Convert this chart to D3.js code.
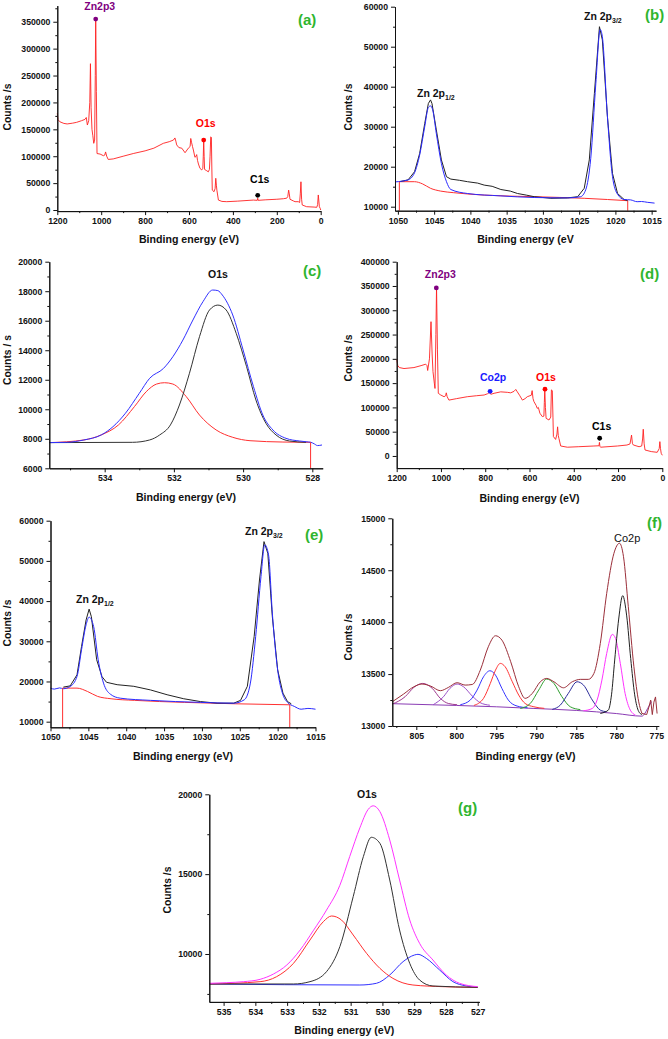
<!DOCTYPE html>
<html><head><meta charset="utf-8">
<script src="https://cdn.jsdelivr.net/npm/d3@7"></script>
<style>
body{margin:0;background:#fff}
svg{display:block}
text{font-family:"Liberation Sans",Arial,sans-serif}
</style>
</head><body>
<svg id="c" width="668" height="1039"></svg>
<script>
// ---------- DATA (binding energy eV, counts/s) ----------
const aSurvey = [[1200,180000],[1197,168000],[1188,164000],[1170,161000],[1155,160000],[1130,161500],[1112,163000],[1090,166000],[1074,168500],[1068,172000],[1063,158000],[1057,166000],[1052,200000],[1049,272000],[1046,190000],[1042,150000],[1038,138000],[1034,124000],[1030,130000],[1027,250000],[1025,356000],[1022,220000],[1019,105000],[1005,104000],[990,101000],[984,102000],[980,108000],[975,100000],[968,94000],[945,95000],[900,100000],[854,105000],[800,110000],[760,115000],[717,124000],[690,127000],[671,130000],[664,134000],[660,128000],[656,121000],[646,116000],[633,115000],[618,106500],[603,115000],[595,118000],[592,133000],[588,125000],[584,118000],[580,111500],[573,98000],[568,100000],[565,103000],[561,92000],[557,85500],[550,77500],[542,74500],[537,77500],[535,100000],[533,130000],[531,100000],[529,75500],[519,73000],[512,71000],[507,75500],[504,100000],[501,136000],[498,135000],[496,80000],[494,37000],[486,34000],[481,40000],[478,59000],[475,45000],[473,37000],[466,18500],[450,16000],[428,15500],[380,16500],[307,18500],[289,18000],[287,22000],[285,18000],[250,19000],[200,20000],[170,21000],[155,22000],[150,25000],[146,37000],[143,30000],[140,20000],[125,17000],[117,15500],[102,15500],[96,14000],[93,30000],[90,52500],[87,20000],[84,9300],[64,6200],[30,5500],[18,5000],[14,10000],[11,28000],[8,15000],[6,6000],[2,3000],[0,0]];
const aMarks = [["Zn2p3",1025,355000,"#800080"],["O1s",533,130000,"#ff0000"],["C1s",287,27300,"#000000"]];

const bBlack = [[1049.8,16250],[1048.6,16700],[1047.7,18750],[1047.0,23300],[1046.3,30800],[1045.8,35800],[1045.5,36700],[1045.3,35800],[1044.7,29200],[1044.0,21700],[1043.3,17500],[1042.7,16900],[1041.5,16600],[1040.4,16250],[1039.0,15900],[1038.1,15400],[1037.0,15100],[1035.8,14300],[1034.5,13900],[1033.5,13300],[1032.3,12900],[1031.2,12500],[1030.0,12300],[1028.9,12100],[1027.5,12150],[1026.6,12200],[1025.2,12500],[1024.3,14600],[1023.6,21700],[1022.9,38300],[1022.2,55000],[1021.8,51700],[1021.1,32500],[1020.4,18300],[1019.7,13300],[1018.8,11800],[1018.3,11500]];
const bBlue = [[1050.4,16200],[1048.6,16700],[1047.7,18500],[1047.0,22900],[1046.3,30000],[1045.8,34800],[1045.5,35200],[1045.2,34200],[1044.7,28300],[1044.0,20800],[1043.3,16250],[1042.7,14300],[1040.4,13300],[1035.8,12700],[1031.2,12300],[1026.6,12200],[1024.8,12500],[1024.1,14200],[1023.4,22100],[1022.7,40800],[1022.1,54300],[1021.8,52500],[1021.1,32500],[1020.4,17500],[1019.7,13100],[1018.8,11800],[1017.9,11700],[1017.0,11250],[1016.4,11300],[1015.6,11100],[1014.6,10900]];
const bRed = [[1049.8,16250],[1047.7,16250],[1046.6,15700],[1045.5,14600],[1044.1,13900],[1042.3,13500],[1038.1,12900],[1031.2,12500],[1024.3,12100],[1021.1,11800],[1018.3,11500]];
const bEdges = [[1049.8,16250],[1018.3,11500]];

const cBlue = [[535.6,7740],[535.1,7760],[534.6,7920],[534.1,8260],[533.76,8820],[533.4,9730],[533.0,11080],[532.7,12100],[532.3,12770],[532.03,13560],[531.74,14690],[531.45,16050],[531.16,17290],[530.88,18080],[530.73,18040],[530.6,17740],[530.3,16390],[530.0,14020],[529.7,11530],[529.43,9610],[529.14,8600],[528.76,8030],[528.37,7850],[528.18,7800],[528.04,7760],[527.94,7650],[527.85,7540],[527.72,7580]];
const cBlack = [[535.6,7740],[533.2,7760],[532.7,7920],[532.41,8260],[532.1,8940],[531.84,10290],[531.55,12440],[531.26,14920],[530.97,16730],[530.73,17060],[530.49,16730],[530.2,15150],[529.9,12890],[529.63,10630],[529.34,9050],[529.05,8260],[528.66,7850],[528.18,7760]];
const cRed = [[535.6,7740],[534.6,7920],[534.1,8260],[533.6,8940],[533.14,10180],[532.8,11190],[532.5,11710],[532.27,11800],[532.03,11710],[531.64,10850],[531.26,9610],[530.78,8600],[530.3,8100],[529.8,7870],[528.85,7780],[528.05,7760]];
const cEdge = [[528.05,7760]];

const dSurvey = [[1200,199000],[1195,186000],[1188,182000],[1167,180000],[1122,182000],[1090,186000],[1069,189000],[1063,186000],[1060,176000],[1052,200000],[1045,276500],[1040,210000],[1036,173600],[1030,150000],[1027,139000],[1023,250000],[1020,348500],[1016,220000],[1012,129000],[1001,125500],[986,122000],[979,124000],[976,130000],[972,122000],[964,115000],[930,118000],[881,122000],[840,124000],[805,125500],[790,128000],[780,131000],[775,127000],[760,129000],[730,132000],[700,131000],[685,130000],[670,133000],[662,137000],[655,132000],[645,125000],[632,115000],[620,118000],[610,122000],[592,125000],[588,134500],[584,118000],[580,112000],[570,104000],[565,98000],[560,100000],[553,88000],[542,81000],[535,82000],[533,110000],[531,137000],[528,100000],[525,77500],[512,74000],[504,80000],[501,136000],[497,134500],[494,80000],[492,40000],[482,34000],[476,45000],[473,60000],[470,42000],[467,36000],[459,20500],[429,18000],[380,19000],[309,20500],[286,21000],[284,28000],[282,20000],[279,18000],[203,20500],[160,22500],[146,24700],[142,35000],[139,43000],[135,26000],[131,22600],[105,19000],[93,20500],[89,35000],[86,55000],[82,25000],[78,12300],[50,9000],[23,7500],[14,15000],[11,29500],[8,15000],[5,5500],[0,1400]];
const dMarks = [["Zn2p3",1021,346000,"#800080"],["Co2p",778,133000,"#1a1aff"],["O1s",530,137500,"#ff0000"],["C1s",283,36500,"#000000"]];

const eBlack = [[1048.3,18600],[1047.4,18900],[1046.5,21650],[1045.9,28700],[1045.3,35300],[1044.9,38000],[1044.6,36100],[1043.9,25400],[1043.2,21200],[1042.6,19800],[1041.2,19200],[1039.0,18800],[1036.8,17900],[1034.6,16700],[1032.4,15700],[1030.2,15000],[1028.0,14600],[1025.8,14600],[1024.9,15300],[1024.0,18800],[1023.1,31200],[1022.4,45250],[1021.8,54800],[1021.3,51900],[1020.7,36100],[1020.0,22900],[1019.3,17100],[1018.7,15000],[1018.2,14450]];
const eBlue = [[1050.0,18350],[1049.5,18100],[1048.8,18400],[1048.3,18200],[1047.4,18750],[1046.5,21250],[1045.9,27900],[1045.3,34100],[1044.9,36000],[1044.3,33650],[1043.7,25400],[1043.0,19600],[1042.1,16850],[1040.8,15850],[1036.8,15300],[1030.2,14800],[1025.8,14600],[1024.4,15450],[1023.6,19600],[1022.9,31200],[1022.2,46100],[1021.7,54000],[1021.2,51500],[1020.7,37000],[1020.0,22900],[1019.3,16700],[1018.7,14800],[1017.8,13800],[1016.9,13100],[1016.0,13300],[1015.0,13100]];
const eRed = [[1048.4,18350],[1046.5,18350],[1045.1,17500],[1043.8,16300],[1042.0,15700],[1038.9,15300],[1032.3,14800],[1025.6,14450],[1018.4,14200]];
const eEdges = [[1048.4,18350],[1018.4,14200]];

const fEnvelope = [[808.0,13233],[806.6,13307],[805.3,13378],[804.3,13404],[803.2,13384],[802.0,13340],[801.0,13371],[799.9,13417],[798.9,13394],[798.0,13400],[797.0,13538],[796.0,13763],[795.1,13869],[794.3,13827],[793.2,13619],[792.2,13378],[791.4,13266],[790.5,13314],[789.5,13426],[788.7,13458],[787.8,13426],[786.6,13368],[785.5,13426],[784.5,13449],[783.5,13449],[782.8,13506],[782.0,13795],[781.2,14277],[780.3,14662],[779.6,14760],[779.1,14630],[778.5,14149],[777.8,13571],[777.2,13233],[776.8,13121]];
const fBackground = [[808.0,13215],[800.0,13198],[795.0,13185],[790.3,13169],[785.0,13150],[780.0,13120],[776.8,13095],[776.0,13180],[775.6,13235]];
const fRawTail = [[776.8,13121],[776.2,13110],[775.9,13190],[775.7,13250],[775.5,13110],[775.3,13230],[775.1,13280],[774.9,13120]];
const fComp1 = [[808.0,13211],[806.4,13282],[805.3,13372],[804.2,13410],[803.0,13362],[802.0,13266],[801.0,13217],[799.9,13205]];
const fComp2 = [[802.9,13204],[801.6,13282],[800.8,13362],[799.9,13404],[799.1,13378],[798.0,13288],[797.0,13224],[795.8,13200]];
const fComp3 = [[799.5,13205],[798.25,13250],[797.4,13346],[796.6,13474],[795.8,13532],[795.1,13490],[794.3,13362],[793.5,13250],[792.4,13192],[791.1,13176]];
const fComp4 = [[797.8,13198],[796.6,13266],[795.75,13410],[795.1,13538],[794.5,13603],[793.9,13571],[793.0,13426],[792.2,13298],[791.4,13217],[790.3,13185],[789.0,13170]];
const fComp5 = [[792.0,13169],[790.75,13217],[789.7,13346],[788.7,13452],[787.8,13410],[786.8,13282],[785.75,13185],[784.5,13158]];
const fComp6 = [[788.0,13160],[787.0,13201],[786.0,13314],[784.9,13426],[784.1,13394],[783.0,13250],[782.0,13153],[781.2,13137]];
const fComp7 = [[784.1,13147],[783.0,13169],[782.4,13250],[781.8,13442],[781.2,13699],[780.5,13882],[780.1,13844],[779.5,13603],[778.9,13314],[778.25,13153],[777.6,13105]];
const fComp8 = [[782.0,13121],[781.0,13153],[780.6,13300],[780.2,13635],[779.7,14030],[779.2,14255],[778.7,14060],[778.2,13650],[777.7,13300],[777.2,13140],[776.8,13110]];

const gEnvelope = [[535.44,8163],[534.9,8204],[534.37,8267],[533.85,8413],[533.43,8747],[533.01,9311],[532.59,10250],[532.18,11450],[531.76,12750],[531.34,14300],[531.03,16100],[530.71,17900],[530.45,19050],[530.29,19280],[530.08,18916],[529.77,17141],[529.46,14635],[529.14,12130],[528.83,10668],[528.41,9624],[527.99,8685],[527.57,8163],[527.0,7954]];
const gBlack = [[535.44,8121],[532.8,8121],[532.28,8267],[531.76,8893],[531.34,10459],[530.92,13591],[530.6,16097],[530.35,17308],[530.08,16932],[529.77,14635],[529.46,11503],[529.14,9415],[528.83,8371],[528.41,7996],[527.0,7912]];
const gRed = [[535.44,8121],[533.85,8267],[533.33,8580],[532.8,9415],[532.28,10877],[531.86,12025],[531.6,12380],[531.29,12130],[530.92,11190],[530.5,10042],[530.08,9102],[529.67,8476],[529.04,8058],[528.1,7954],[527.0,7912]];
const gBlue = [[535.44,8121],[530.71,8058],[530.19,8163],[529.77,8685],[529.35,9520],[528.99,9937],[528.88,9979],[528.62,9729],[528.2,8998],[527.78,8267],[527.36,7996],[527.0,7912]];

// ---------- DRAWING ----------
const svg = d3.select('#c');
const fmt = d3.format('d');
function range(a,b,s){const r=[];for(let v=a;s>0?v<=b+1e-9:v>=b-1e-9;v+=s)r.push(+v.toFixed(4));return r;}

function panel(o){
  const x = d3.scaleLinear().domain(o.xd).range(o.xr);
  const y = d3.scaleLinear().domain(o.yd).range(o.yr);
  const g = svg.append('g');
  o.series.forEach(s=>{
    const ln = d3.line().x(d=>x(d[0])).y(d=>y(d[1])).curve(s.smooth?d3.curveMonotoneX:d3.curveLinear);
    g.append('path').datum(s.data).attr('d',ln).attr('fill','none')
      .attr('stroke',s.color).attr('stroke-width',s.w||1).attr('stroke-linejoin','round');
  });
  (o.edges||[]).forEach(e=>{
    e.data.forEach(d=>{
      g.append('line').attr('x1',x(d[0])).attr('x2',x(d[0])).attr('y1',y(d[1])).attr('y2',y(o.yd[0]))
        .attr('stroke',e.color).attr('stroke-width',1);
    });
  });
  const xb=o.yr[0], yl=o.xr[0];
  const style = sel=>{sel.attr('font-size',8.7).attr('font-weight','bold').attr('font-family','"Liberation Sans",Arial,sans-serif');
    sel.selectAll('path,line').attr('stroke','#111');sel.selectAll('text').attr('fill','#111');};
  g.append('g').attr('transform',`translate(0,${xb})`)
    .call(d3.axisBottom(x).tickValues(o.xm).tickSize(2).tickSizeOuter(0).tickFormat('')).call(style);
  g.append('g').attr('transform',`translate(0,${xb})`)
    .call(d3.axisBottom(x).tickValues(o.xt).tickSize(4).tickSizeOuter(0).tickFormat(fmt)).call(style);
  g.append('g').attr('transform',`translate(${yl},0)`)
    .call(d3.axisLeft(y).tickValues(o.ym).tickSize(2).tickSizeOuter(0).tickFormat('')).call(style);
  g.append('g').attr('transform',`translate(${yl},0)`)
    .call(d3.axisLeft(y).tickValues(o.yt).tickSize(4).tickSizeOuter(0).tickFormat(fmt)).call(style);
  // axis titles
  g.append('text').attr('x',(o.xr[0]+o.xr[1])/2).attr('y',o.xtY).attr('text-anchor','middle')
    .attr('font-size',10.6).attr('font-weight','bold').attr('fill','#111').text(o.xTitle);
  g.append('text').attr('transform',`translate(${o.ytX},${o.ytY}) rotate(-90)`).attr('text-anchor','middle')
    .attr('font-size',10.3).attr('font-weight','bold').attr('fill','#111').text(o.yTitle);
  // panel letter
  g.append('text').attr('x',o.letter[1]).attr('y',o.letter[2]).attr('font-family','"Liberation Serif","Times New Roman",serif')
    .attr('font-size',15).attr('font-weight','bold').attr('fill','#2fb52f').text(o.letter[0]);
  // markers
  (o.marks||[]).forEach(m=>{
    const px=x(m[1]), py=y(m[2]);
    g.append('circle').attr('cx',px).attr('cy',py).attr('r',2.4).attr('fill',m[3]);
    g.append('text').attr('x',px+m[4]).attr('y',py+m[5]).attr('text-anchor','middle')
      .attr('font-size',10.5).attr('font-weight','bold').attr('fill',m[3]).text(m[0]);
  });
  (o.labels||[]).forEach(l=>{
    const t=g.append('text').attr('x',l.x).attr('y',l.y).attr('font-size',l.size||10.5)
      .attr('font-weight',l.normal?'normal':'bold').attr('fill','#111').attr('text-anchor',l.anchor||'start');
    t.append('tspan').text(l.t);
    if(l.sub){t.append('tspan').attr('font-size',7).attr('dy',2.5).text(l.sub);}
  });
  return {x,y,g};
}

// (a)
panel({xd:[1200,0],xr:[57.3,320.7],yd:[-2000,380000],yr:[211.1,5.6],
  xt:range(0,1200,200),xm:range(100,1100,200),yt:range(0,350000,50000),ym:range(25000,375000,50000),
  xTitle:'Binding energy (eV)',xtY:243,yTitle:'Counts /s',ytX:11,ytY:107,letter:['(a)',298,25],
  series:[{data:aSurvey,color:'#ff2020',w:0.9}],
  marks:aMarks.map((m,i)=>[...m,[[4,-9],[2,-13],[2,-12]][i][0],[[4,-9],[2,-13],[2,-12]][i][1]])});

// (b)
panel({xd:[1050.4,1014.4],xr:[395,656],yd:[9000,60000],yr:[210.7,6.7],
  xt:range(1015,1050,5),xm:range(1017.5,1047.5,5),yt:range(10000,60000,10000),ym:range(15000,55000,10000),
  xTitle:'Binding energy (eV',xtY:243,yTitle:'Counts /s',ytX:352,ytY:107,letter:['(b)',645,20],
  series:[{data:bRed,color:'#ff3030',smooth:true},{data:bBlack,color:'#222'},{data:bBlue,color:'#2a2aff',smooth:true}],
  edges:[{data:bEdges,color:'#ff3030'}],
  labels:[{x:417,y:97,t:'Zn 2p',sub:'1/2'},{x:584,y:20,t:'Zn 2p',sub:'3/2'}]});

// (c)
panel({xd:[535.6,527.7],xr:[49.3,322.7],yd:[6000,20000],yr:[468.3,261.7],
  xt:range(528,534,2),xm:range(529,535,2),yt:range(6000,20000,2000),ym:range(7000,19000,2000),
  xTitle:'Binding energy (eV)',xtY:501,yTitle:'Counts / s',ytX:11,ytY:360,letter:['(c)',303,276],
  series:[{data:cRed,color:'#ff3030',smooth:true},{data:cBlack,color:'#333',smooth:true},{data:cBlue,color:'#3030ff',smooth:true}],
  edges:[{data:cEdge,color:'#ff3030'}],
  labels:[{x:218,y:278,t:'O1s',anchor:'middle'}]});

// (d)
panel({xd:[1200,0],xr:[396.7,662.3],yd:[-25000,400000],yr:[468.1,261.7],
  xt:range(0,1200,200),xm:range(100,1100,200),yt:range(0,400000,50000),ym:range(25000,375000,50000),
  xTitle:'Binding energy (eV)',xtY:502,yTitle:'Counts /s',ytX:352,ytY:358,letter:['(d)',640,279],
  series:[{data:dSurvey,color:'#ff2020',w:0.9}],
  marks:dMarks.map((m,i)=>[...m,[[4,-10],[3,-10],[1,-8],[2,-8]][i][0],[[4,-10],[3,-10],[1,-8],[2,-8]][i][1]])});

// (e)
panel({xd:[1050,1015],xr:[50.5,315.5],yd:[8600,60000],yr:[727.3,520.7],
  xt:range(1015,1050,5),xm:range(1017.5,1047.5,5),yt:range(10000,60000,10000),ym:range(15000,55000,10000),
  xTitle:'Binding energy (eV)',xtY:760,yTitle:'Counts /s',ytX:11,ytY:623,letter:['(e)',305,540],
  series:[{data:eRed,color:'#ff3030',smooth:true},{data:eBlack,color:'#222'},{data:eBlue,color:'#2a2aff',smooth:true}],
  edges:[{data:eEdges,color:'#ff3030'}],
  labels:[{x:76,y:603,t:'Zn 2p',sub:'1/2'},{x:245,y:535,t:'Zn 2p',sub:'3/2'}]});

// (f)
panel({xd:[808,774.7],xr:[392.3,658.7],yd:[13000,15000],yr:[726,518.3],
  xt:range(775,805,5),xm:range(777.5,807.5,5),yt:range(13000,15000,500),ym:range(13250,14750,500),
  xTitle:'Binding energy (eV)',xtY:760,yTitle:'Counts /s',ytX:352,ytY:637,letter:['(f)',647,528],
  series:[{data:fBackground,color:'#8a3cb4',smooth:true},
    {data:fComp1,color:'#a03a8f',smooth:true},{data:fComp2,color:'#9a4fc8',smooth:true},
    {data:fComp3,color:'#3535ff',smooth:true},{data:fComp4,color:'#ff3535',smooth:true},
    {data:fComp5,color:'#2e9e2e',smooth:true},{data:fComp6,color:'#2b2b9a',smooth:true},
    {data:fComp7,color:'#ff33ff',smooth:true},{data:fComp8,color:'#222',smooth:true},
    {data:fEnvelope,color:'#9b2f3a',smooth:true},{data:fRawTail,color:'#9b2f3a'}],
  labels:[{x:614,y:542,t:'Co2p',normal:true,size:11}]});

// (g)
panel({xd:[535.45,526.95],xr:[209.3,479.3],yd:[7000,20000],yr:[1001.9,794.3],
  xt:range(527,535,1),xm:range(527.5,534.5,1),yt:range(10000,20000,5000),ym:range(7500,17500,5000),
  xTitle:'Binding energy (eV)',xtY:1034,yTitle:'Counts /s',ytX:171,ytY:890,letter:['(g)',458,813],
  series:[{data:gBlue,color:'#3030ff',smooth:true},{data:gRed,color:'#ff3030',smooth:true},
    {data:gBlack,color:'#333',smooth:true},{data:gEnvelope,color:'#ff33ff',smooth:true}],
  labels:[{x:367,y:798,t:'O1s',anchor:'middle'}]});
</script>
</body></html>
